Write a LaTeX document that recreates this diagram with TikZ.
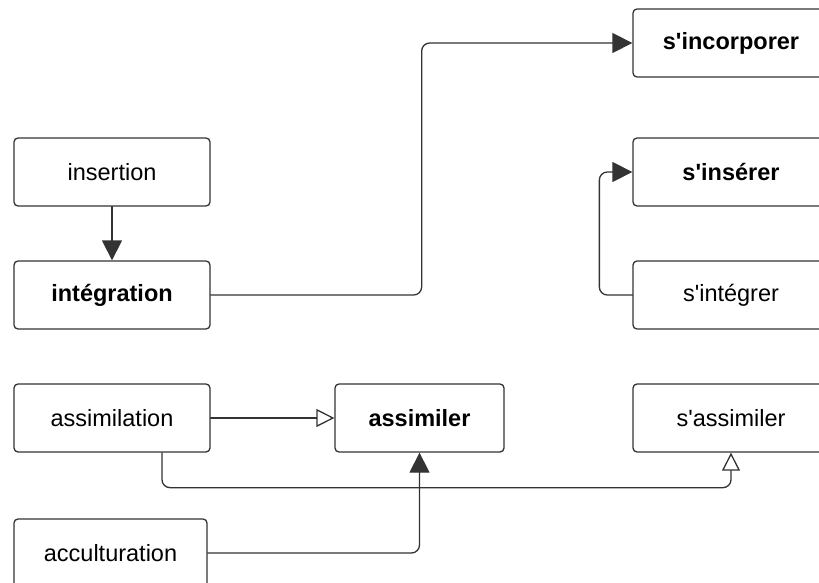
\documentclass[tikz,border=0pt]{standalone}
\usepackage{fontspec}
\setmainfont{Liberation Sans}
\usetikzlibrary{arrows.meta}
\definecolor{edge}{HTML}{333333}
\newcommand{\sq}{\textquotesingle}

\tikzset{
  term/.style={draw=edge,line width=1.3pt,rounded corners=4pt,minimum width=196,minimum height=68,
    inner sep=0pt,font=\fontsize{23.5}{28}\selectfont},
  head/.style={term,font=\fontsize{23.5}{28}\selectfont\bfseries},
  link/.style={draw=edge,line width=1.3pt,rounded corners=8pt},
  solid tip/.style={-{Triangle[length=20pt,width=20pt]}},
  open tip/.style={-{Triangle[open,length=18pt,width=18pt,fill=white]}}
}

\begin{document}
\begin{tikzpicture}[line cap=round,line join=round,x=1pt,y=-1pt]
\useasboundingbox (0,0) rectangle (819,583);
% left column
\node[term] (ins) at (112,172) {insertion};
\node[head] (int) at (112,295) {intégration};
\node[term] (asml) at (112,418) {assimilation};
\node[term,minimum width=193] (acc) at (110.5,553) {acculturation};
% middle
\node[head,minimum width=169] (asm) at (419.5,418) {assimiler};
% right column
\node[head] (inc) at (731,43) {s\sq incorporer};
\node[head] (sins) at (731,172) {s\sq insérer};
\node[term] (sint) at (731,295) {s\sq intégrer};
\node[term] (sasm) at (731,418) {s\sq assimiler};
% connectors
\draw[link,solid tip] (ins) -- (int);
\draw[link,solid tip] (int.east) -- ++(211,0) |- (inc.west);
\draw[link,solid tip] (sint.west) -- ++(-33,0) |- (sins.west);
\draw[link,open tip] (asml) -- (asm);
\draw[link,open tip] ([xshift=50]asml.south) -- ++(0,35) -| (sasm.south);
\draw[link,solid tip] (acc.east) -| (asm.south);
\end{tikzpicture}
\end{document}
